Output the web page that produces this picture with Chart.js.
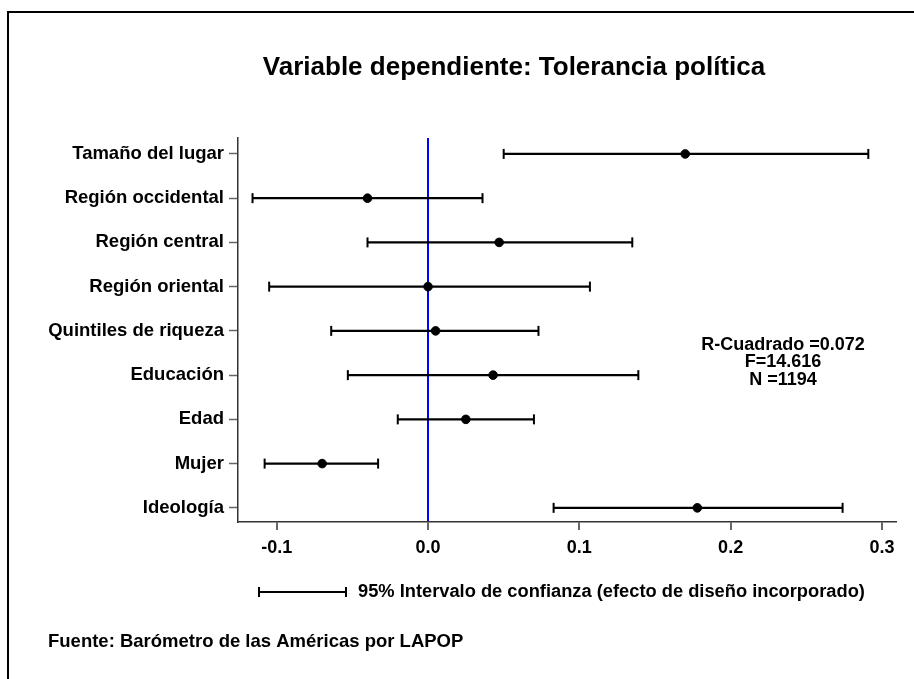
<!DOCTYPE html>
<html>
<head>
<meta charset="utf-8">
<script src="https://cdn.jsdelivr.net/npm/chart.js@4/dist/chart.umd.min.js"></script>
<style>
  html, body { margin: 0; padding: 0; background: #fff; }
  #marco { position: absolute; left: 0; top: 0; width: 914px; height: 679px; }
  #borde { position: absolute; left: 7px; top: 11px; right: 0; bottom: 0; border-top: 2px solid #000; border-left: 2px solid #000; pointer-events: none; }
</style>
</head>
<body>
<div id="marco">
  <canvas id="grafico" width="914" height="679"></canvas>
  <div id="borde"></div>
</div>
<script>
// Variables del modelo (de arriba hacia abajo)
const variables = [
  "Tamaño del lugar",
  "Región occidental",
  "Región central",
  "Región oriental",
  "Quintiles de riqueza",
  "Educación",
  "Edad",
  "Mujer",
  "Ideología"
];

// Coeficientes estandarizados
const coeficientes = [0.170, -0.040, 0.047, 0.000, 0.005, 0.043, 0.025, -0.070, 0.178];

// Intervalos de confianza al 95%
const limiteInferior = [0.050, -0.116, -0.040, -0.105, -0.064, -0.053, -0.020, -0.108, 0.083];
const limiteSuperior = [0.291, 0.036, 0.135, 0.107, 0.073, 0.139, 0.070, -0.033, 0.274];

// Marcas del eje X
const marcasX = [-0.1, 0.0, 0.1, 0.2, 0.3];

const titulo = "Variable dependiente: Tolerancia política";
const estadisticos = ["R-Cuadrado =0.072", "F=14.616", "N =1194"];
const textoLeyenda = "95% Intervalo de confianza (efecto de diseño incorporado)";
const textoFuente = "Fuente: Barómetro de las Américas por LAPOP";

const fuente = "'Liberation Sans', Arial, sans-serif";

// Un dataset de línea por intervalo, con remates verticales
const datasetsIntervalos = variables.map((nombre, i) => ({
  type: "line",
  label: nombre,
  data: [
    { x: limiteInferior[i], y: i },
    { x: limiteSuperior[i], y: i }
  ],
  borderColor: "#000",
  borderWidth: 2.3,
  pointStyle: "line",
  rotation: 90,
  pointRadius: 5,
  pointBorderWidth: 2,
  pointBorderColor: "#000",
  pointHoverRadius: 5
}));

const datasetPuntos = {
  type: "scatter",
  label: "Coeficiente",
  data: coeficientes.map((c, i) => ({ x: c, y: i })),
  backgroundColor: "#000",
  borderColor: "#000",
  pointRadius: 4.3,
  pointHoverRadius: 4.3
};

// Textos fuera del área del gráfico
const textosExtra = {
  id: "textosExtra",
  afterDraw(chart) {
    const ctx = chart.ctx;
    ctx.save();
    ctx.fillStyle = "#000";
    ctx.textBaseline = "middle";

    ctx.font = "bold 26px " + fuente;
    ctx.textAlign = "center";
    ctx.fillText(titulo, 514, 68);

    ctx.font = "bold 18px " + fuente;
    estadisticos.forEach((t, k) => ctx.fillText(t, 783, 345 + k * 17.5));

    // Leyenda
    ctx.strokeStyle = "#000";
    ctx.lineWidth = 2;
    ctx.beginPath();
    ctx.moveTo(259, 592); ctx.lineTo(346, 592);
    ctx.moveTo(259, 587); ctx.lineTo(259, 597);
    ctx.moveTo(346, 587); ctx.lineTo(346, 597);
    ctx.stroke();
    ctx.textAlign = "left";
    ctx.font = "bold 18.3px " + fuente;
    ctx.fillText(textoLeyenda, 358, 592);

    ctx.font = "bold 18.5px " + fuente;
    ctx.fillText(textoFuente, 48, 642);
    ctx.restore();
  }
};

document.addEventListener("DOMContentLoaded", () => {
  const ctx = document.getElementById("grafico").getContext("2d");
  new Chart(ctx, {
    data: { datasets: [...datasetsIntervalos, datasetPuntos] },
    options: {
      responsive: false,
      animation: false,
      layout: { padding: { top: 138, right: 18, bottom: 0, left: 0 } },
      plugins: {
        legend: { display: false },
        title: { display: false },
        tooltip: { enabled: false }
      },
      scales: {
        x: {
          type: "linear",
          min: -0.1256,
          max: 0.3093,
          afterBuildTicks: scale => { scale.ticks = marcasX.map(v => ({ value: v })); },
          afterFit: scale => { scale.height = 679 - 522; },
          border: { display: true, color: "#333", width: 1.5 },
          grid: {
            drawOnChartArea: true,
            color: c => (c.tick && c.tick.value === 0 ? "#0000ff" : "rgba(0,0,0,0)"),
            lineWidth: 2,
            tickColor: "#333",
            tickWidth: 1.5,
            tickLength: 8
          },
          ticks: {
            color: "#000",
            padding: 7,
            font: { family: fuente, size: 18, weight: "bold" },
            callback: v => v.toFixed(1)
          }
        },
        y: {
          type: "linear",
          reverse: true,
          min: -0.36,
          max: 8.32,
          afterBuildTicks: scale => { scale.ticks = variables.map((_, i) => ({ value: i })); },
          afterFit: scale => { scale.width = 238; },
          border: { display: true, color: "#333", width: 1.5 },
          grid: {
            drawOnChartArea: false,
            tickColor: "#666",
            tickWidth: 1.5,
            tickLength: 9
          },
          ticks: {
            color: "#000",
            padding: 5,
            font: { family: fuente, size: 18.5, weight: "bold" },
            callback: v => variables[v]
          }
        }
      }
    },
    plugins: [textosExtra]
  });
});
</script>
</body>
</html>
